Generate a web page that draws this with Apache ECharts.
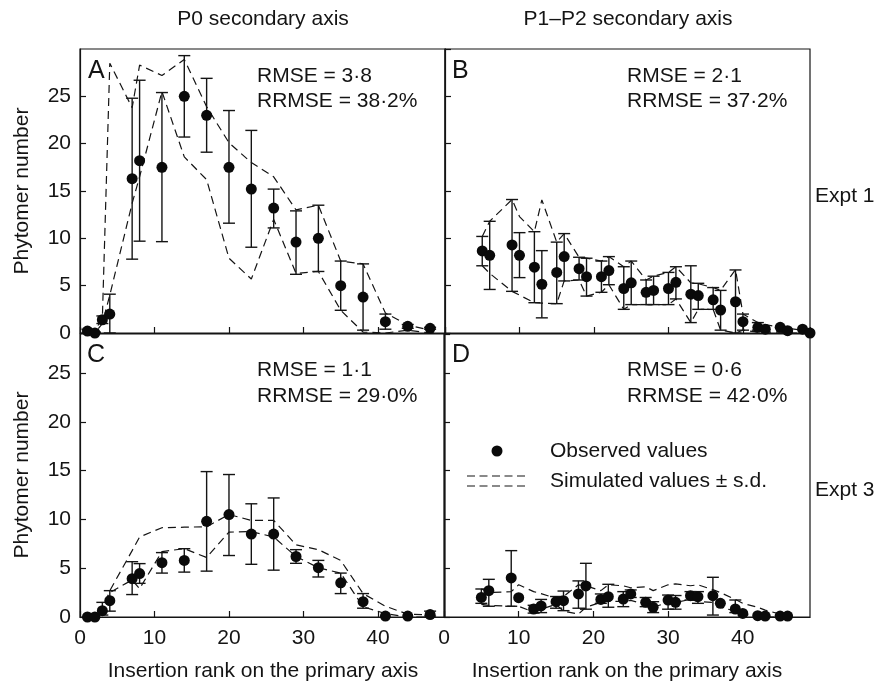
<!DOCTYPE html>
<html><head><meta charset="utf-8">
<script src="https://cdn.jsdelivr.net/npm/echarts@6/dist/echarts.min.js"></script>
<style>html,body{margin:0;padding:0;background:#fff}#c{width:877px;height:685px}</style>
</head><body><div id="c"></div>
<script>
// ---------- Panel A: P0 secondary axis, Expt 1 ----------
const rankA  = [1,2,3,4,7,8,11,14,17,20,23,26,29,32,35,38,41,44,47];
const obsA   = [0.2,0,1.4,2.0,16.3,18.2,17.5,25.0,23.0,17.5,15.2,13.2,9.6,10.0,5.0,3.8,1.2,0.7,0.5];
const obsLoA = [0,0,1.0,0,7.8,9.7,9.65,20.7,19.1,11.6,9.06,11.1,6.2,6.5,2.4,0.3,0.4,0.5,0.4];
const obsHiA = [0.4,0.1,1.8,4.1,24.8,26.7,25.4,29.3,26.9,23.5,21.4,15.2,12.9,13.5,7.6,7.3,2.0,0.9,0.6];
const simHiA = [0.3,0.3,1.5,28.5,23.8,28.3,27.2,28.9,23.9,20.1,18.0,16.5,13.0,13.5,7.6,7.3,2.1,0.85,0.3];
const simLoA = [0,0,1.0,4.0,13.7,16.5,25.5,18.6,16.2,7.9,5.7,12.0,6.3,6.5,2.4,0.1,0,0.3,0];

// ---------- Panel B: P1–P2 secondary axis, Expt 1 ----------
const rankB  = [5,6,9,10,12,13,15,16,18,19,21,22,24,25,27,28,30,31,33,34,36,37,39,40,42,43,45,46,48,49];
const obsB   = [8.67,8.2,9.3,8.2,6.95,5.15,6.4,8.07,6.8,5.95,5.95,6.6,4.7,5.3,4.3,4.5,4.7,5.35,4.1,3.95,3.5,2.43,3.3,1.2,0.6,0.4,0.6,0.25,0.4,0.0];
const obsLoB = [7.1,4.6,4.4,5.85,3.2,1.6,3.1,5.5,5.6,3.9,4.3,5.1,2.5,3.0,3.0,3.0,3.0,3.6,1.1,2.5,2.5,0.3,0,0.3,0.3,0.4,0.6,0.25,0.4,0];
const obsHiB = [10.2,11.8,14.1,10.6,10.7,8.7,9.6,10.5,8.0,7.9,7.6,8.07,7.0,7.6,5.6,6.0,6.4,7.0,7.1,5.25,4.8,4.5,6.66,2.0,1.1,0.4,0.6,0.25,0.4,0];
const simHiB = [10.2,11.8,14.1,12.3,10.7,14.06,9.6,10.5,8.0,7.9,7.6,8.07,7.0,7.6,5.6,6.0,6.4,7.0,5.3,5.2,4.8,4.5,6.7,2.0,1.1,0.9,0.6,0.5,0.3,0.2];
const simLoB = [7.1,6.3,4.4,4.0,3.2,3.15,3.1,5.5,5.6,3.9,4.3,5.1,2.5,3.0,3.0,3.0,3.0,3.6,1.1,2.5,2.5,0.3,0,0.3,0.1,0.1,0.1,0,0,0];

// ---------- Panel C: P0 secondary axis, Expt 3 ----------
const rankC  = [1,2,3,4,7,8,11,14,17,20,23,26,29,32,35,38,41,44,47];
const obsC   = [0,0,0.65,1.67,3.93,4.45,5.57,5.8,9.8,10.5,8.5,8.5,6.2,5.05,3.5,1.57,0.1,0.1,0.25];
const obsLoC = [0,0,0.2,0.6,2.3,3.45,4.5,4.6,4.7,6.3,5.4,4.8,5.5,4.1,2.4,0.9,0.1,0.1,0.1];
const obsHiC = [0,0,1.5,2.7,5.67,5.47,6.6,7.0,14.9,14.6,11.6,12.2,6.9,5.8,4.5,2.4,0.1,0.1,0.6];
const simHiC = [0,0,0.7,2.7,6.8,8.2,9.15,9.2,9.25,10.5,9.9,9.9,7.4,6.9,5.8,2.4,1.1,0.3,0.2];
const simLoC = [0,0,0.5,2.5,3.8,2.9,6.7,7.0,6.1,8.7,8.75,8.2,6.2,5.05,4.5,1.05,0.35,0,0];

// ---------- Panel D: P1–P2 secondary axis, Expt 3 ----------
const rankD  = [5,6,9,10,12,13,15,16,18,19,21,22,24,25,27,28,30,31,33,34,36,37,39,40,42,43,45,46];
const obsD   = [2.0,2.7,4.0,1.98,0.82,1.13,1.57,1.67,2.36,3.18,1.8,2.08,1.84,2.36,1.5,0.99,1.74,1.5,2.18,2.08,2.18,1.4,0.82,0.37,0.14,0.1,0.1,0.1];
const obsLoD = [1.4,1.1,1.1,1.98,0.4,0.45,0.9,0.65,0.9,0.8,1.4,1.0,1.06,2.0,1.06,0.45,0.8,0.8,1.74,1.4,0.2,1.4,0.45,0.37,0.14,0.1,0.1,0.1];
const obsHiD = [2.87,3.86,6.8,1.98,1.2,1.8,2.1,2.66,3.7,5.5,2.36,3.35,2.6,2.77,2.0,1.57,2.25,2.2,2.6,2.6,4.07,1.4,1.74,0.37,0.14,0.1,0.1,0.1];
const simHiD = [2.9,2.5,2.6,3.3,2.6,2.4,1.9,2.1,3.3,3.2,2.7,3.3,3.2,3.0,3.1,2.7,3.3,3.4,3.2,3.3,2.8,2.5,1.8,1.4,1.0,0.7,0.3,0.1];
const simLoD = [1.3,1.2,1.1,1.1,0.5,0.8,1.3,0.6,0.3,1.0,1.5,1.6,1.6,1.7,1.3,1.0,1.5,1.5,1.8,1.6,1.5,1.0,0.6,0.3,0.1,0,0,0];

// ---------- Tick / text labels ----------
const yTicks = [0,5,10,15,20,25];
const xTicks = [0,10,20,30,40];
const colTitles = ['P0 secondary axis','P1\u2013P2 secondary axis'];
const rowTitles = ['Expt 1','Expt 3'];
const yTitle = 'Phytomer number';
const xTitle = 'Insertion rank on the primary axis';
const panelLetters = ['A','B','C','D'];
const rmse  = ['RMSE = 3\u00b78','RMSE = 2\u00b71','RMSE = 1\u00b71','RMSE = 0\u00b76'];
const rrmse = ['RRMSE = 38\u00b72%','RRMSE = 37\u00b72%','RRMSE = 29\u00b70%','RRMSE = 42\u00b70%'];
const legendNames = ['Observed values','Simulated values \u00b1 s.d.'];

const FONT = "'Liberation Sans', Arial, Helvetica, sans-serif";
const INK = '#141414';
const FS = 21;

const panels = [
  {rank:rankA, obs:obsA, lo:obsLoA, hi:obsHiA, sh:simHiA, sl:simLoA},
  {rank:rankB, obs:obsB, lo:obsLoB, hi:obsHiB, sh:simHiB, sl:simLoB},
  {rank:rankC, obs:obsC, lo:obsLoC, hi:obsHiC, sh:simHiC, sl:simLoC},
  {rank:rankD, obs:obsD, lo:obsLoD, hi:obsHiD, sh:simHiD, sl:simLoD}
];

const grids = [
  {left:80,  top:49,  width:365, height:284},
  {left:445, top:49,  width:365, height:284},
  {left:80,  top:334, width:365, height:283},
  {left:444, top:334, width:366, height:283}
].map(g => Object.assign(g, {show:true, borderColor:INK, borderWidth:1.2, containLabel:false}));

const xAxes = [0,1,2,3].map(i => ({
  type:'value', gridIndex:i, min:0, max:49, interval:10,
  axisLine:{show:true, onZero:false, lineStyle:{color:INK, width:1.2}},
  axisTick:{show:true, inside:true, length:6, lineStyle:{color:INK, width:1.2}},
  splitLine:{show:false},
  axisLabel:{show:i>=2, fontSize:FS, color:INK, fontFamily:FONT, margin:11,
    showMaxLabel:false, formatter:v => xTicks.includes(v) ? String(v) : ''}
}));
const yAxes = [0,1,2,3].map(i => ({
  type:'value', gridIndex:i, min:0, max:(i<2?30:29), interval:5,
  axisLine:{show:true, onZero:false, lineStyle:{color:INK, width:1.2}},
  axisTick:{show:true, inside:true, length:6, lineStyle:{color:INK, width:1.2}},
  splitLine:{show:false},
  axisLabel:{show:(i%2===0), fontSize:FS, color:INK, fontFamily:FONT, margin:9,
    showMaxLabel:false, formatter:v => yTicks.includes(v) ? String(v) : ''}
}));

function errRender(params, api){
  const x = api.value(0), lo = api.value(1), hi = api.value(2);
  if (hi - lo < 0.05) return;
  const a = api.coord([x, lo]), b = api.coord([x, hi]);
  const w = 6;
  const st = {stroke:INK, lineWidth:1.4};
  return {type:'group', children:[
    {type:'line', shape:{x1:a[0],y1:a[1],x2:b[0],y2:b[1]}, style:st},
    {type:'line', shape:{x1:b[0]-w,y1:b[1],x2:b[0]+w,y2:b[1]}, style:st},
    {type:'line', shape:{x1:a[0]-w,y1:a[1],x2:a[0]+w,y2:a[1]}, style:st}
  ]};
}

const series = [];
panels.forEach((p,i) => {
  const dash = {color:INK, width:1.2, type:[8,5], opacity:1};
  series.push({type:'line', xAxisIndex:i, yAxisIndex:i, symbol:'none', z:2,
    data:p.rank.map((r,k)=>[r,p.sh[k]]), lineStyle:dash});
  series.push({type:'line', xAxisIndex:i, yAxisIndex:i, symbol:'none', z:2,
    data:p.rank.map((r,k)=>[r,p.sl[k]]), lineStyle:dash});
  series.push({type:'custom', xAxisIndex:i, yAxisIndex:i, z:3, renderItem:errRender,
    encode:{x:0, y:[1,2]},
    data:p.rank.map((r,k)=>[r,p.lo[k],p.hi[k]])});
  series.push({type:'scatter', xAxisIndex:i, yAxisIndex:i, z:4, symbol:'circle', symbolSize:11,
    itemStyle:{color:'#0a0a0a', opacity:1}, data:p.rank.map((r,k)=>[r,p.obs[k]])});
});

const txt = (x,y,t,opt={}) => Object.assign({type:'text', x, y, style:Object.assign({
  text:t, fill:INK, font:`${FS}px ${FONT}`, textAlign:'left', textVerticalAlign:'middle'}, opt.style||{})},
  opt.extra||{});

const graphic = [];
graphic.push(txt(263,19,colTitles[0],{style:{textAlign:'center'}}));
graphic.push(txt(628,19,colTitles[1],{style:{textAlign:'center'}}));
graphic.push(txt(815,196,rowTitles[0]));
graphic.push(txt(815,490,rowTitles[1]));
graphic.push(txt(263,671,xTitle,{style:{textAlign:'center'}}));
graphic.push(txt(627,671,xTitle,{style:{textAlign:'center'}}));
graphic.push(txt(22,191,yTitle,{style:{textAlign:'center'}, extra:{rotation:Math.PI/2}}));
graphic.push(txt(22,475,yTitle,{style:{textAlign:'center'}, extra:{rotation:Math.PI/2}}));
const letterPos = [[88,71],[452,71],[87,355],[452,355]];
const statPos = [[257,76,101],[627,76,101],[257,370,396],[627,370,396]];
for (let i=0;i<4;i++){
  graphic.push(txt(letterPos[i][0],letterPos[i][1],panelLetters[i],{style:{font:`25px ${FONT}`}}));
  graphic.push(txt(statPos[i][0],statPos[i][1],rmse[i]));
  graphic.push(txt(statPos[i][0],statPos[i][2],rrmse[i]));
}
// legend (panel D)
graphic.push({type:'circle', shape:{cx:497, cy:451, r:5.5}, style:{fill:'#0a0a0a'}});
graphic.push({type:'line', shape:{x1:467,y1:476,x2:528,y2:476}, style:{stroke:INK, lineWidth:1.2, lineDash:[8,4.5]}});
graphic.push({type:'line', shape:{x1:467,y1:486,x2:528,y2:486}, style:{stroke:INK, lineWidth:1.2, lineDash:[8,4.5]}});
graphic.push(txt(550,451,legendNames[0]));
graphic.push(txt(550,481,legendNames[1]));

const chart = echarts.init(document.getElementById('c'), null, {renderer:'canvas'});
chart.setOption({
  animation:false,
  backgroundColor:'#fff',
  textStyle:{fontFamily:FONT},
  grid:grids, xAxis:xAxes, yAxis:yAxes, series, graphic
});
</script></body></html>
